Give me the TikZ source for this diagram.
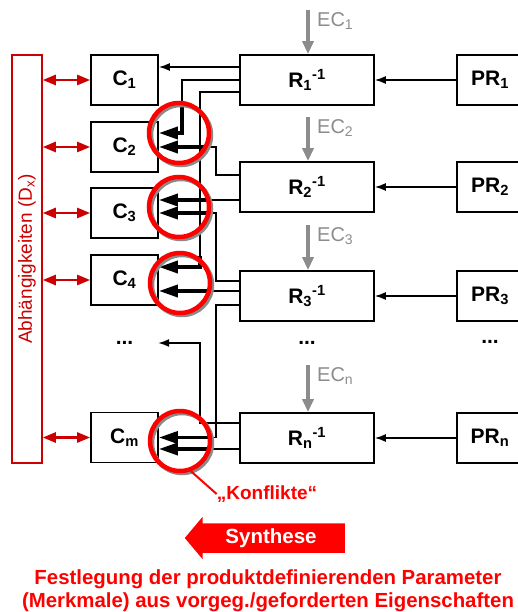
\documentclass[tikz,border=0pt]{standalone}
\usepackage{fontspec}
\setmainfont{Liberation Sans}
\usepackage{tikz}
\usetikzlibrary{arrows.meta,positioning,calc,shapes.arrows}
\definecolor{cDep}{HTML}{CC0000}
\definecolor{cConf}{HTML}{FF0000}
\definecolor{cEC}{HTML}{8C8C8C}
\definecolor{cShadow}{HTML}{8A8A8A}
\newcommand{\fsz}[1]{\fontsize{#1}{#1}\selectfont}
\tikzset{
  cbox/.style    ={draw, line width=1.7pt, minimum width=67pt, minimum height=50pt,
                   inner sep=0pt, font=\fsz{21}\bfseries},
  rbox/.style    ={cbox, minimum width=134pt},
  prbox/.style   ={cbox, minimum width=66pt},
  dotsnode/.style={font=\fsz{21}\bfseries, inner sep=0pt, minimum width=67pt},
  depbar/.style  ={draw=cDep, line width=1.5pt, minimum width=30pt, minimum height=408pt, inner sep=0pt},
  deplabel/.style={text=cDep, font=\fsz{19}, rotate=90, inner sep=0pt},
  eclabel/.style ={text=cEC, font=\fsz{20}, anchor=north west, inner sep=0pt},
  conf/.style    ={circle, draw=cConf, line width=4.5pt, minimum size=60pt, inner sep=0pt,
                   preaction={draw=cShadow, transform canvas={shift={(2pt,-2pt)}}}},
  conflabel/.style={text=cConf, font=\fsz{19}\bfseries, inner sep=0pt},
  synarrow/.style={single arrow, shape border rotate=180, fill=cConf, text=white,
                   font=\fsz{20.5}\bfseries, minimum height=160pt, single arrow head extend=6.5pt,
                   single arrow tip angle=100, inner xsep=0pt, inner ysep=5pt},
  festlabel/.style={text=cConf, font=\fontsize{20.4}{23}\selectfont\bfseries, align=center, inner sep=0pt},
  arrow/.style   ={-{Latex[length=11pt,width=8pt]}, line width=1.5pt},
  wire/.style    ={line width=1.5pt},
  tarrow/.style  ={-{Triangle[length=19pt,width=12pt]}, line width=3.5pt},
  ecarrow/.style ={-{Triangle[length=13pt,width=11pt]}, line width=4pt, draw=cEC},
  deparrow/.style={{Triangle[length=13pt,width=10pt]}-{Triangle[length=13pt,width=10pt]}, line width=2.5pt, draw=cDep},
  confline/.style={draw=cConf, line width=2pt},
}
\begin{document}
\begin{tikzpicture}[x=1pt, y=-1pt]
  \useasboundingbox (0,0) rectangle (517,612);
  % Merkmale
  \node[cbox] (C1) at (124.5,80) {C\textsubscript{1}};
  \node[cbox] (C2) at (124.5,147) {C\textsubscript{2}};
  \node[cbox] (C3) at (124.5,213) {C\textsubscript{3}};
  \node[cbox] (C4) at (124.5,280) {C\textsubscript{4}};
  \node[dotsnode] (Cd) at (124.5,343) {...};
  \node[cbox] (Cm) at (124.5,437.5) {C\textsubscript{m}};
  % Relationen
  \node[rbox] (R1) at (307,80) {R\textsubscript{1}\textsuperscript{-1}};
  \node[rbox] (R2) at (307,187) {R\textsubscript{2}\textsuperscript{-1}};
  \node[rbox] (R3) at (307,296) {R\textsubscript{3}\textsuperscript{-1}};
  \node[dotsnode] (Rd) at (307,343) {...};
  \node[rbox] (Rn) at (307,438) {R\textsubscript{n}\textsuperscript{-1}};
  % Eigenschaften
  \node[prbox] (PR1) at (490,80) {PR\textsubscript{1}};
  \node[prbox] (PR2) at (490,187) {PR\textsubscript{2}};
  \node[prbox] (PR3) at (490,296) {PR\textsubscript{3}};
  \node[dotsnode] (PRd) at (490,342) {...};
  \node[prbox] (PRn) at (490,438) {PR\textsubscript{n}};
  \foreach \i in {1,2,3,n} \draw[arrow] (PR\i) -- (R\i);
  % Randbedingungen
  \foreach \i/\y/\r in {1/10/R1, 2/117/R2, 3/225/R3, n/365/Rn} {
    \coordinate (e\i) at (308,\y);
    \node[eclabel] (ec\i) at ([xshift=9pt,yshift=-2pt]e\i) {EC\textsubscript{\i}};
    \draw[ecarrow] (e\i) -- (e\i |- \r.north);
  }
  % Abhaengigkeiten
  \node[depbar] (dep) at (27,259) {};
  \node[deplabel] (deptext) at (dep.center) {Abhängigkeiten (D\textsubscript{x})};
  \foreach \c in {C1,C2,C3,C4,Cm} \draw[deparrow] (dep.east |- \c.west) -- (\c.west);
  % Verbindungen R -> C
  \coordinate (xb) at (200,0);
  \coordinate (xc) at (216,0);
  \coordinate (xt) at (210,0);
  \coordinate (ta) at (182,104);
  \coordinate (tb) at (200,256);
  \coordinate (r1a) at ([yshift=13pt]R1.west);
  \coordinate (r1c) at ([yshift=-12pt]R1.west);
  \coordinate (r2a) at ([yshift=12pt]R2.west);
  \coordinate (r2b) at ([yshift=-13pt]R2.west);
  \coordinate (r3a) at ([yshift=15pt]R3.west);
  \coordinate (r3b) at ([yshift=5pt]R3.west);
  \coordinate (r3c) at ([yshift=-9pt]R3.west);
  \coordinate (rna) at ([yshift=15pt]Rn.west);
  \coordinate (rnb) at ([yshift=-11pt]Rn.west);
  \draw[arrow] (r1a) -- (r1a -| C1.east);
  \draw[wire] (R1.west) -| (ta);
  \draw[tarrow] (ta) |- ([yshift=14pt]C2.east);
  \draw[wire] (r1c) -| (tb);
  \draw[tarrow] (tb) |- ([yshift=13pt]C4.east);
  \draw[wire] (r2a) -| (xc |- C2.east) -- (xt |- C2.east);
  \draw[tarrow] (xt |- C2.east) -- (C2.east);
  \draw[wire] (r2b) -- (r2b -| xt);
  \draw[tarrow] (r2b -| xt) -- (r2b -| C3.east);
  \draw[wire] (r3a) -| (xc |- C3.east) -- (xt |- C3.east);
  \draw[tarrow] (xt |- C3.east) -- (C3.east);
  \draw[wire] (r3b) -- (r3b -| xt);
  \draw[tarrow] (r3b -| xt) -- (r3b -| C4.east);
  \draw[wire] (r3c) -| (xc |- Cm.east) -- (xt |- Cm.east);
  \draw[tarrow] (xt |- Cm.east) -- (Cm.east);
  \draw[wire] (rnb) -- (rnb -| xt);
  \draw[tarrow] (rnb -| xt) -- (rnb -| Cm.east);
  \draw[arrow] (rna) -| (xb |- Cd) -- (Cd.east);
  % Konflikte
  \node[conf] (kC2) at (179,133) {};
  \node[conf] (kC3) at (179,207) {};
  \node[conf] (kC4) at (180,283) {};
  \node[conf] (kCm) at (180,441) {};
  \node[conflabel] (konf) at (267,494) {„Konflikte“};
  \draw[confline] (kCm.-70) -- (konf.west);
  % Synthese
  \node[synarrow] (syn) at (271,538) {Synthese};
  \node[festlabel] (fest) at (268,591) {Festlegung der produktdefinierenden Parameter\\(Merkmale) aus vorgeg./geforderten Eigenschaften};
\end{tikzpicture}
\end{document}
